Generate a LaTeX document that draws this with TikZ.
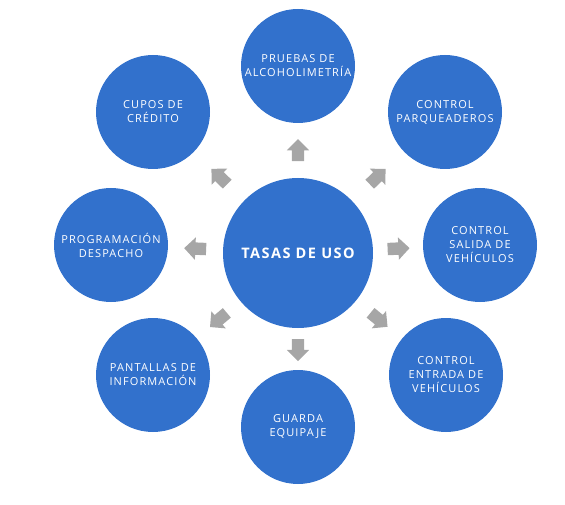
\documentclass[tikz,border=0pt]{standalone}
\usepackage{fontspec}
\setmainfont{Open Sans}[LetterSpace=10]
\usetikzlibrary{positioning,shapes.arrows}
\definecolor{tasablue}{RGB}{50,113,204}
\definecolor{flechagray}{RGB}{166,166,166}
\tikzset{
    tema/.style = {circle, fill=tasablue, text=white, minimum size=114pt, inner sep=0pt,
                   align=center, font=\fontsize{11}{14}\selectfont},
    centro/.style = {tema, minimum size=150pt, font=\fontsize{14.5}{16}\selectfont\bfseries},
    flecha/.style = {single arrow, fill=flechagray, inner sep=0pt, inner ysep=6pt,
                     minimum width=22pt, minimum height=22pt, single arrow head extend=5pt},
}

\begin{document}
\begin{tikzpicture}[x=1pt, y=-1pt]
    \useasboundingbox (0,0) rectangle (565,505);

    \node (uso) [centro] at (298,253) {TASAS DE USO};

    \node (pruebas)   [tema] at (298,66)  {PRUEBAS DE\\ALCOHOLIMETRÍA};
    \node (parq)      [tema] at (445,112) {CONTROL\\PARQUEADEROS};
    \node (salida)    [tema] at (480,245) {CONTROL\\SALIDA DE\\VEHÍCULOS};
    \node (entrada)   [tema] at (446,375) {CONTROL\\ENTRADA DE\\VEHÍCULOS};
    \node (guarda)    [tema] at (298,427) {GUARDA\\EQUIPAJE};
    \node (pantallas) [tema] at (153,375) {PANTALLAS DE\\INFORMACIÓN};
    \node (prog)      [tema] at (111,245) {PROGRAMACIÓN\\DESPACHO};
    \node (cupos)     [tema] at (153,112) {CUPOS DE\\CRÉDITO};

    \foreach \n in {pruebas,parq,salida,entrada,guarda,pantallas,prog,cupos}
        \path (uso) -- (\n) node [flecha, sloped, allow upside down, pos=.45] {};
\end{tikzpicture}
\end{document}
